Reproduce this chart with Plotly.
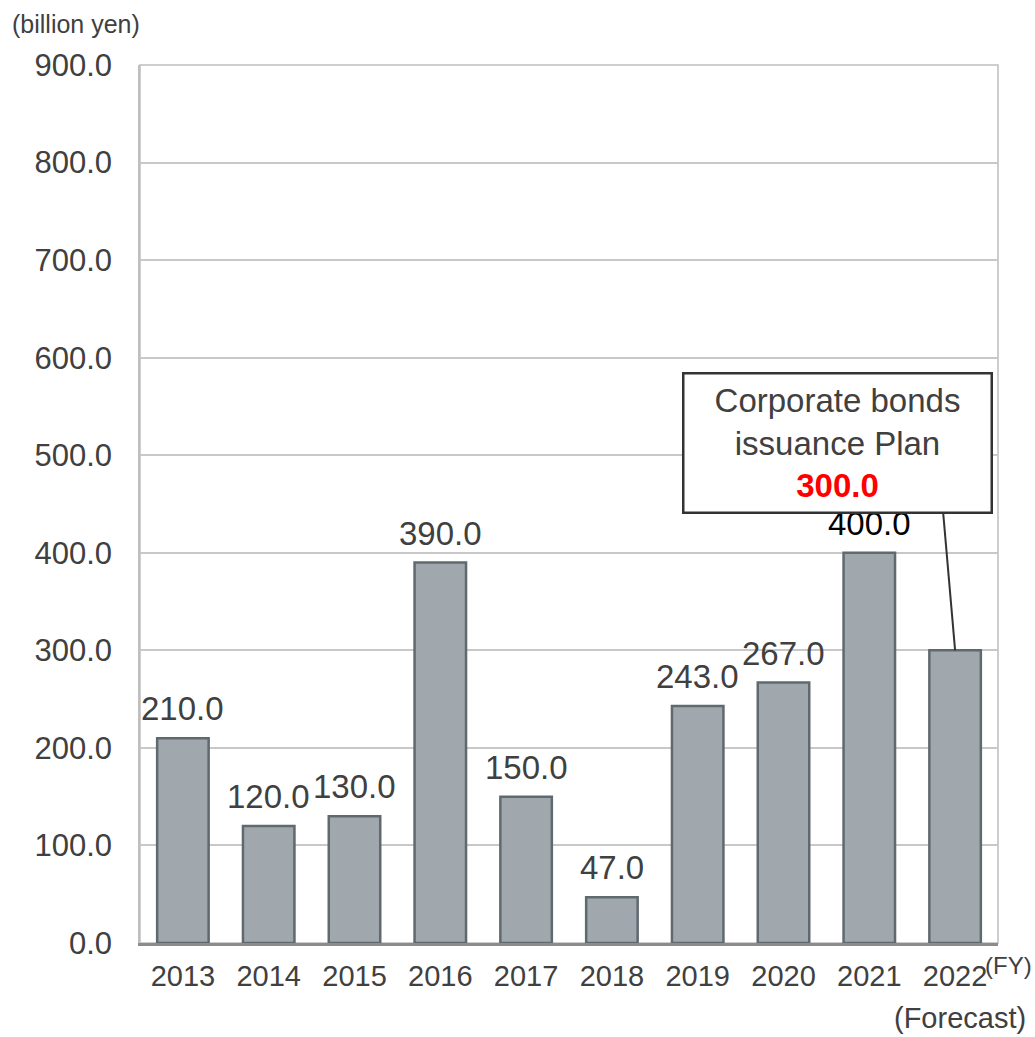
import plotly.graph_objects as go

# Corporate bonds issuance by fiscal year (billion yen)
years = ["2013", "2014", "2015", "2016", "2017", "2018", "2019", "2020", "2021", "2022"]
issuance = [210.0, 120.0, 130.0, 390.0, 150.0, 47.0, 243.0, 267.0, 400.0, 300.0]
plan_value = 300.0

# 2022 carries the callout instead of a plain label; 2021 label is black
label_colors = ["#404040"] * 8 + ["#000000"]

font = "Liberation Sans, Arial, sans-serif"

fig = go.Figure(go.Bar(
    x=years, y=issuance,
    marker=dict(color="#A0A8AE", line=dict(color="#5F6A6F", width=2.5)),
))

# value labels above bars (category index used, since year names look numeric)
for i, (v, c) in enumerate(zip(issuance[:-1], label_colors)):
    fig.add_annotation(x=i, y=v, xref="x", yref="y", yanchor="bottom", yshift=9,
                       text="{:.1f}".format(v), showarrow=False,
                       font=dict(size=33, color=c, family=font))

fig.update_layout(
    width=1035, height=1037,
    margin=dict(l=140, r=37, t=65, b=94),
    paper_bgcolor="white", plot_bgcolor="white",
    bargap=0.4, showlegend=False,
    font=dict(family=font, color="#404040"),
)
fig.update_xaxes(
    type="category", range=[-0.5, 9.5], showline=True, linecolor="#8C8C8C", linewidth=2.5,
    tickfont=dict(size=29, color="#404040"), ticks="", ticklabelstandoff=5,
)
fig.update_yaxes(
    range=[0, 900], dtick=100, tickformat=".1f",
    showgrid=True, gridcolor="#C8C8C8", gridwidth=1.5, zeroline=False,
    showline=True, linecolor="#BFBFBF", linewidth=1.5,
    tickfont=dict(size=31, color="#404040"), ticks="", ticklabelstandoff=20,
)

# light frame around the plot area
fig.add_shape(type="rect", xref="paper", yref="paper", x0=0, y0=0, x1=1, y1=1,
              line=dict(color="#BFBFBF", width=1.5), layer="below")

# leader line from the callout to the 2022 bar
fig.add_shape(type="line", xref="x", yref="y", x0=8.86, y0=442, x1=9.0, y1=plan_value,
              line=dict(color="#333333", width=2))

fig.add_annotation(
    xref="paper", yref="paper", x=0.8124, y=0.570, xanchor="center", yanchor="middle",
    showarrow=False,
    text="Corporate bonds<br>issuance Plan<br><b><span style='color:#FF0000'>{:.1f}</span></b>".format(plan_value),
    font=dict(size=33, color="#404040", family=font),
    bgcolor="white", bordercolor="#333333", borderwidth=2.5, borderpad=2,
    width=302, height=133, align="center",
)

fig.add_annotation(xref="paper", yref="paper", x=-0.1515, y=1.0467, xanchor="left", yanchor="middle",
                   text="(billion yen)", showarrow=False, font=dict(size=25, color="#404040"))
fig.add_annotation(xref="paper", yref="paper", x=0.9825, y=-0.026, xanchor="left", yanchor="middle",
                   text="(FY)", showarrow=False, font=dict(size=24, color="#404040"))
fig.add_annotation(xref="paper", yref="paper", x=1.035, y=-0.085, xanchor="right", yanchor="middle",
                   text="(Forecast)", showarrow=False, font=dict(size=29, color="#404040"))

fig.write_html("out.html", config={"displayModeBar": False},
               post_script="document.body.style.margin='0px';")
